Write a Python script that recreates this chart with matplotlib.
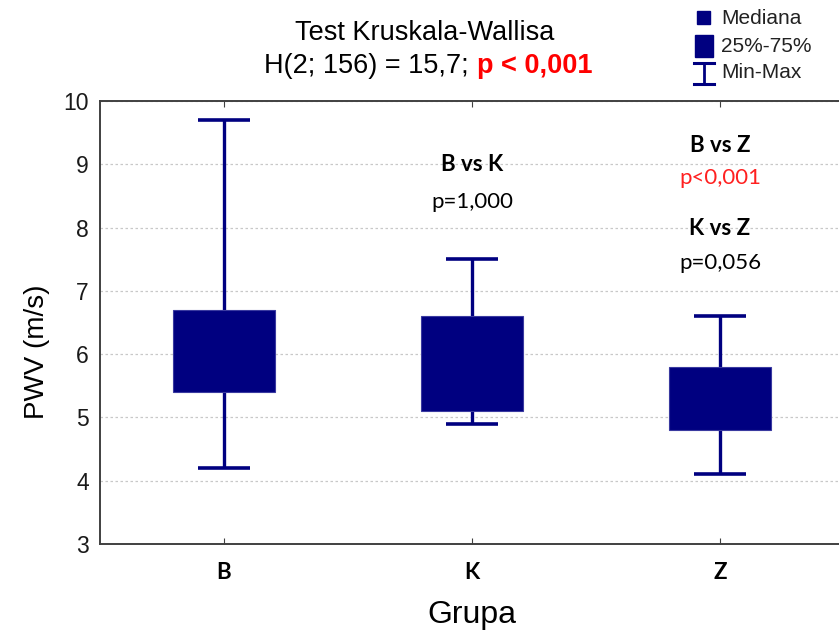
import matplotlib
matplotlib.use("Agg")
import matplotlib.pyplot as plt
from matplotlib.patches import Rectangle
from matplotlib.lines import Line2D

groups = ["B", "K", "Z"]
q1 = [5.4, 5.1, 4.8]
q3 = [6.7, 6.6, 5.8]
vmin = [4.2, 4.9, 4.1]
vmax = [9.7, 7.5, 6.6]
yticks = [3, 4, 5, 6, 7, 8, 9, 10]

navy = "#000080"
W, H = 839, 634
fig = plt.figure(figsize=(W / 100, H / 100), dpi=100)
ax = fig.add_axes([100 / W, (H - 544) / H, 744 / W, 443 / H])

pos = list(range(len(groups)))
ax.bar(pos, [b - a for a, b in zip(q1, q3)], bottom=q1, width=0.41,
       color=navy, edgecolor="#3a3aa0", linewidth=0.8, zorder=3)
ax.vlines(pos, vmin, q1, color=navy, lw=2.4, zorder=2)
ax.vlines(pos, q3, vmax, color=navy, lw=2.4, zorder=2)
ax.hlines(vmin, [p - 0.105 for p in pos], [p + 0.105 for p in pos], color=navy, lw=2.6, zorder=2)
ax.hlines(vmax, [p - 0.105 for p in pos], [p + 0.105 for p in pos], color=navy, lw=2.6, zorder=2)

ax.set_xlim(-0.5, 2.5)
ax.set_ylim(3, 10)
ax.set_yticks(yticks)
ax.set_xticks(pos)
ax.set_xticklabels(groups, fontfamily="Lato", fontweight="bold", fontsize=16)
ax.yaxis.grid(True, linestyle=(0, (2, 2)), color="#c8c8c8", lw=0.9)
ax.set_axisbelow(True)
ax.tick_params(axis="y", length=0, pad=8, labelsize=16.5)
ax.tick_params(axis="x", direction="in", length=4, top=True, pad=13, color="#404040")
for lab in ax.get_yticklabels():
    lab.set_fontfamily("Liberation Sans")
    lab.set_color("#1a1a1a")
for s in ax.spines.values():
    s.set_color("#404040")
    s.set_linewidth(1.4)
ax.spines["right"].set_visible(False)

ax.set_ylabel("PWV (m/s)", fontfamily="Liberation Sans", fontsize=20)
ax.yaxis.set_label_coords(-0.067, 0.433)
ax.set_xlabel("Grupa", fontfamily="Liberation Sans", fontsize=23, labelpad=12)

# annotations
afam = "Lato"
fs = 16
ax.text(1, 8.99, "B vs K", ha="center", va="center", fontfamily=afam, fontweight="bold", fontsize=fs)
ax.text(1, 8.40, "p=1,000", ha="center", va="center", fontfamily=afam, fontsize=fs)
ax.text(2, 9.30, "B vs Z", ha="center", va="center", fontfamily=afam, fontweight="bold", fontsize=fs)
ax.text(2, 8.78, "p<0,001", ha="center", va="center", fontfamily=afam, fontsize=fs, color="#ff2020")
ax.text(2, 7.98, "K vs Z", ha="center", va="center", fontfamily=afam, fontweight="bold", fontsize=fs)
ax.text(2, 7.44, "p=0,056", ha="center", va="center", fontfamily=afam, fontsize=fs)

# title
tf = "Liberation Sans"
fig.text(425 / W, 1 - 33 / H, "Test Kruskala-Wallisa", ha="center", va="center", fontfamily=tf, fontsize=19.5)
fig.text(469 / W, 1 - 66 / H, "H(2; 156) = 15,7;", ha="right", va="center", fontfamily=tf, fontsize=19.5)
fig.text(477 / W, 1 - 66 / H, "p < 0,001", ha="left", va="center", fontfamily=tf, fontsize=19.5,
         fontweight="bold", color="#ff0000")

# legend
fig.add_artist(Rectangle((697 / W, 1 - 24 / H), 13 / W, 13 / H, transform=fig.transFigure, color=navy))
fig.add_artist(Rectangle((695 / W, 1 - 57 / H), 18 / W, 22 / H, transform=fig.transFigure, color=navy))
fig.add_artist(Line2D([704 / W, 704 / W], [1 - 63 / H, 1 - 84 / H], transform=fig.transFigure, color=navy, lw=2))
fig.add_artist(Line2D([694 / W, 714 / W], [1 - 63 / H, 1 - 63 / H], transform=fig.transFigure, color=navy, lw=2.2))
fig.add_artist(Line2D([694 / W, 714 / W], [1 - 84 / H, 1 - 84 / H], transform=fig.transFigure, color=navy, lw=2.2))
for yy, t in [(18, "Mediana"), (47, "25%-75%"), (73, "Min-Max")]:
    fig.text(721 / W, 1 - yy / H, t, ha="left", va="center", fontfamily=tf, fontsize=15, color="#222222")

fig.savefig("out.png", dpi=100)
